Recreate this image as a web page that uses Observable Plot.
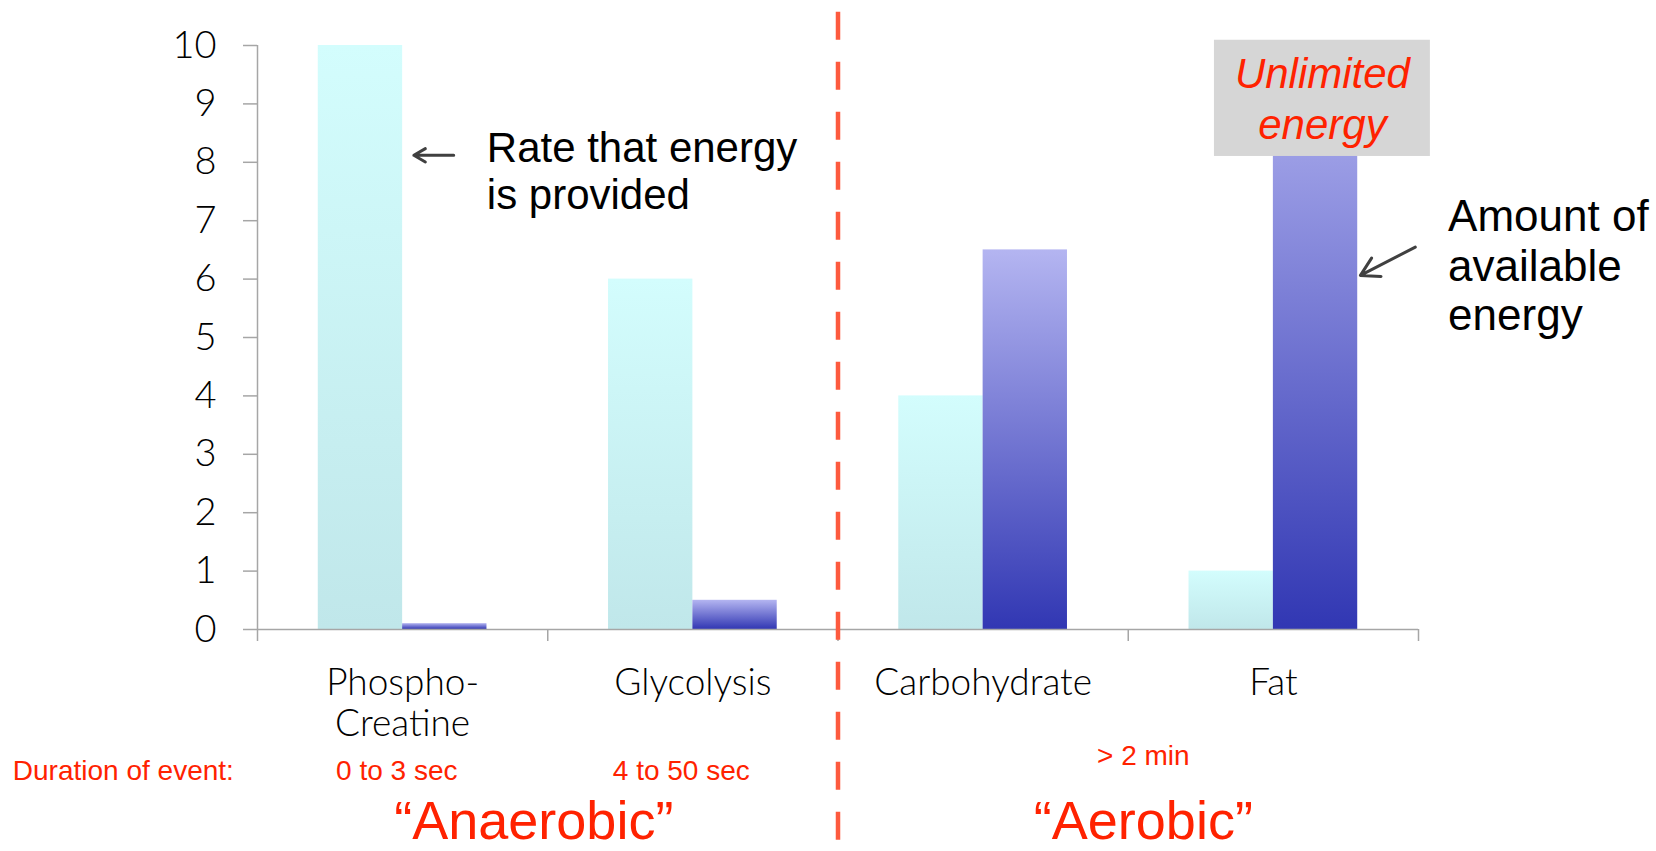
<!DOCTYPE html>
<html>
<head>
<meta charset="utf-8">
<script src="https://cdn.jsdelivr.net/npm/d3@7"></script>
<script src="https://cdn.jsdelivr.net/npm/@observablehq/plot@0.6"></script>
<style>
  html, body { margin: 0; padding: 0; background: #ffffff; }
  #chart svg { display: block; }
  g[aria-label="rate bars"] rect,
  g[aria-label="amount bars"] rect { filter: drop-shadow(1.5px 0px 1.5px rgba(0, 0, 0, 0.18)); }
</style>
</head>
<body>
<div id="chart"></div>
<script>
// Energy systems: rate of supply vs. amount of available energy
const categories = ["Phospho-\nCreatine", "Glycolysis", "Carbohydrate", "Fat"];
const rateValues = [10, 6, 4, 1];
const amountValues = [0.1, 0.5, 6.5, 10];
const yTicks = [0, 1, 2, 3, 4, 5, 6, 7, 8, 9, 10];
const durationLabel = "Duration of event:";
const durations = ["0 to 3 sec", "4 to 50 sec", "> 2 min"];
const regimes = ["\u201CAnaerobic\u201D", "\u201CAerobic\u201D"];

const rateRows = categories.map((c, i) => ({i, category: c, value: rateValues[i]}));
const amountRows = categories.map((c, i) => ({i, category: c, value: amountValues[i]}));

const half = 0.2906; // bar width as a fraction of a category band
const red = "#ff2200";
const axisGray = "#a6a6a6";
const sans = "Liberation Sans, Arial, sans-serif";
const geo = "Lato, sans-serif";

// gradient fills for the two series (one gradient per bar box)
function gradients() {
  const defs = d3.create("svg:defs");
  const a = defs.append("linearGradient").attr("id", "rate-fill")
    .attr("x1", 0).attr("y1", 0).attr("x2", 0).attr("y2", 1);
  a.append("stop").attr("offset", 0).attr("stop-color", "#d3fdfd");
  a.append("stop").attr("offset", 1).attr("stop-color", "#c0e7ea");
  const b = defs.append("linearGradient").attr("id", "amount-fill")
    .attr("x1", 0).attr("y1", 0).attr("x2", 0).attr("y2", 1);
  b.append("stop").attr("offset", 0).attr("stop-color", "#b4b5f1");
  b.append("stop").attr("offset", 1).attr("stop-color", "#3137b3");
  return defs.node();
}

const chart = Plot.plot({
  width: 1656,
  height: 851,
  marginLeft: 257,
  marginRight: 238,
  marginTop: 45,
  marginBottom: 222,
  style: {fontFamily: geo, color: "#000", background: "#fff"},
  x: {domain: [0, 4], axis: null},
  y: {domain: [0, 10], axis: null},
  marks: [
    gradients,
    // y axis
    Plot.ruleX([0], {y1: 0, y2: 10, stroke: axisGray, strokeWidth: 1.5}),
    Plot.axisY(yTicks, {
      tickSize: 14, tickPadding: 27, stroke: axisGray, strokeWidth: 1.5,
      tickFormat: d => String(d),
      fontSize: 38, fontFamily: geo, fontWeight: 300, fill: "#000", label: null
    }),
    // bars
    Plot.rectY(rateRows, {
      x1: d => d.i + 0.5 - half, x2: d => d.i + 0.5, y: "value",
      fill: "url(#rate-fill)", ariaLabel: "rate bars"
    }),
    Plot.rectY(amountRows, {
      x1: d => d.i + 0.5, x2: d => d.i + 0.5 + half, y: "value",
      fill: "url(#amount-fill)", ariaLabel: "amount bars"
    }),
    // x axis with ticks between categories
    Plot.ruleY([0], {stroke: axisGray, strokeWidth: 1.5}),
    Plot.axisX([0, 1, 2, 3, 4], {
      tickSize: 12, stroke: axisGray, strokeWidth: 1.5, tickFormat: () => "", label: null
    }),
    Plot.text(categories, {
      x: (d, i) => i + 0.5, y: -0.614, text: d => d,
      lineAnchor: "top", lineHeight: 1.11, fontSize: 37, fontFamily: geo, fontWeight: 300, fill: "#000"
    }),
    // anaerobic / aerobic divider
    Plot.ruleX([2], {y1: 10.57, y2: -3.81, stroke: "#fd5a3e", strokeWidth: 4.5, strokeDasharray: "28,22"}),
    // "Unlimited energy" callout over the fat bar
    Plot.rect([0], {x1: 3.297, x2: 4.041, y1: 8.1, y2: 10.09, fill: "#d6d6d6"}),
    Plot.text(["Unlimited\nenergy"], {
      x: 3.669, y: 9.885, text: d => d, lineAnchor: "top", lineHeight: 1.21,
      fontSize: 42, fontStyle: "italic", fontFamily: sans, fill: red
    }),
    // series annotations
    Plot.arrow([0], {
      x1: 0.676, y1: 8.12, x2: 0.5386, y2: 8.12,
      stroke: "#404040", strokeWidth: 3, headLength: 14
    }),
    Plot.text(["Rate that energy\nis provided"], {
      x: 0.79, y: 8.57, text: d => d, textAnchor: "start", lineAnchor: "top",
      lineHeight: 1.12, fontSize: 42, fontFamily: sans, fill: "#000"
    }),
    Plot.arrow([0], {
      x1: 3.989, y1: 6.548, x2: 3.80, y2: 6.063,
      stroke: "#404040", strokeWidth: 3, headLength: 14
    }),
    Plot.text(["Amount of\navailable\nenergy"], {
      x: 4.102, y: 7.43, text: d => d, textAnchor: "start", lineAnchor: "top",
      lineHeight: 1.13, fontSize: 44, fontFamily: sans, fill: "#000"
    }),
    // durations
    Plot.text([durationLabel], {
      x: -0.843, y: -2.42, text: d => d, textAnchor: "start",
      fontSize: 28, fontFamily: sans, fill: red
    }),
    Plot.text(durations, {
      x: [0.48, 1.46, 3.052], y: [-2.42, -2.42, -2.165], text: d => d,
      fontSize: 28, fontFamily: sans, fill: red
    }),
    Plot.text(regimes, {
      x: [0.952, 3.052], y: -3.29, text: d => d,
      fontSize: 54, fontFamily: sans, fill: red
    })
  ]
});

document.getElementById("chart").appendChild(chart);
</script>
</body>
</html>
